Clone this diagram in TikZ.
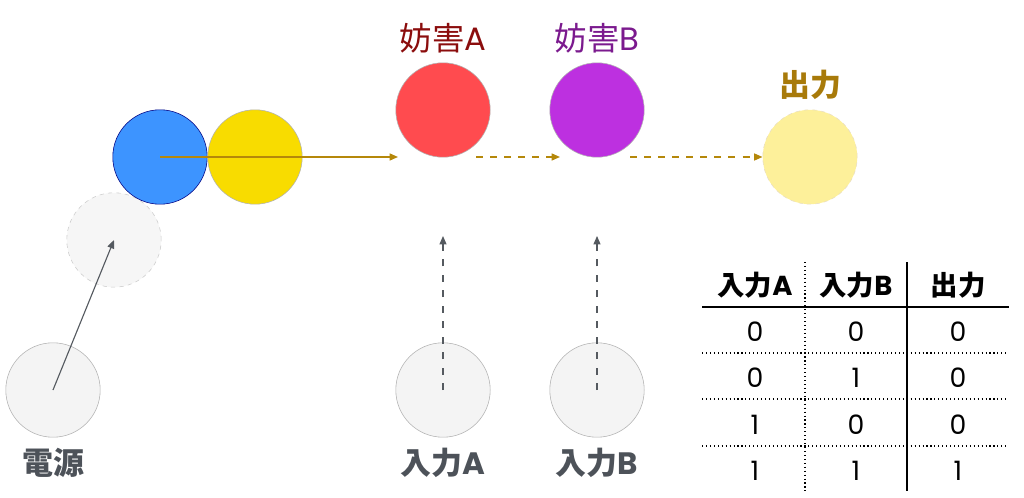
\documentclass[tikz,border=0pt]{standalone}
\usepackage{fontspec}
\setmainfont{Noto Sans CJK JP}
\newfontfamily\latn{Poppins}
\usepackage{xcolor}
\usetikzlibrary{arrows.meta,positioning}
\definecolor{ballblue}{HTML}{3D94FF}
\definecolor{ballyellow}{HTML}{F8DC00}
\definecolor{ballred}{HTML}{FF4B4F}
\definecolor{ballpurple}{HTML}{BD30E0}
\definecolor{outyellow}{HTML}{FDF09A}
\definecolor{pinfill}{HTML}{F4F4F4}
\definecolor{ghostfill}{HTML}{F6F6F6}
\definecolor{flowgold}{HTML}{B5880A}
\definecolor{pokegray}{HTML}{555A60}
\definecolor{lblgray}{HTML}{4D5259}
\definecolor{jamAred}{HTML}{8B0D0D}
\definecolor{jamBpurple}{HTML}{7B1A8E}
\definecolor{outgold}{HTML}{A87A0A}
\tikzset{
  ball/.style={circle, draw=gray!60, minimum size=2.36cm, inner sep=0pt},
  ghostball/.style={ball, dashed, draw=gray!40, fill=ghostfill},
  pinball/.style={ball, fill=pinfill},
  flowarr/.style={-{Triangle[length=6pt, width=5pt]}, line width=1.1pt, flowgold},
  flowdash/.style={flowarr, dash pattern=on 5pt off 5pt},
  pokearr/.style={-{Triangle[length=6pt, width=5pt]}, line width=0.8pt, pokegray},
  pokedash/.style={pokearr, dash pattern=on 5pt off 6pt},
  grylbl/.style={font=\fontsize{22}{22}\selectfont\bfseries, text=lblgray},
  toplbl/.style={font=\fontsize{23}{23}\selectfont},
  cell/.style={font=\fontsize{19}{19}\selectfont\latn},
  hcell/.style={font=\fontsize{19.5}{19.5}\selectfont\bfseries},
}

\begin{document}
\begin{tikzpicture}[x=0.025cm, y=-0.025cm]
\useasboundingbox (0,0) rectangle (1024,498);
% --- power and pusher ---
\node[pinball] (pwr) at (53,390) {};
\node[grylbl, below=0.14cm of pwr] (tPwr) {電源};
\node[ghostball] (ghost) at (114,240) {};
\node[ball, draw=blue!50!black, fill=ballblue] (blu) at (160,157) {};
\node[ball, fill=ballyellow] (yel) at (255,157) {};
\draw[pokearr] (pwr.center) -- (ghost.center);
% --- jammers ---
\node[ball, fill=ballred] (jamA) at (443,110) {};
\node[toplbl, text=jamAred, above=0.1cm of jamA] (tJamA) {妨害{\latn A}};
\node[ball, fill=ballpurple] (jamB) at (597,110) {};
\node[toplbl, text=jamBpurple, above=0.1cm of jamB] (tJamB) {妨害{\latn B}};
% --- output ---
\node[ball, dashed, draw=outgold!25, fill=outyellow] (out) at (810,157) {};
\node[font=\fontsize{22}{22}\selectfont\bfseries, text=outgold, above=0.12cm of out] (tOut) {出力};
% --- flow along the track ---
\coordinate (stopA) at (398,157);
\coordinate (goA) at (476,157);
\coordinate (stopB) at (560,157);
\coordinate (goB) at (630,157);
\draw[flowarr] (blu.center) -- (stopA);
\draw[flowdash] (goA) -- (stopB);
\draw[flowdash] (goB) -- (out.west);
% --- inputs ---
\node[pinball] (inA) at (443,390) {};
\node[grylbl, below=0.14cm of inA] (tInA) {入力{\latn A}};
\node[pinball] (inB) at (597,390) {};
\node[grylbl, below=0.14cm of inB] (tInB) {入力{\latn B}};
\coordinate (hitA) at (443,236);
\coordinate (hitB) at (597,236);
\draw[pokedash] (inA.center) -- (hitA);
\draw[pokedash] (inB.center) -- (hitB);
% --- truth table ---
\draw[line width=0.8pt] (702,307) -- (1009,307);
\draw[line width=0.8pt] (907,262) -- (907,491);
\draw[line width=0.8pt, dotted] (805,262) -- (805,491);
\foreach \y in {353,399,446}
  \draw[line width=0.8pt, dotted] (702,\y) -- (1009,\y);
\node[hcell] (h1) at (755,285) {入力{\latn A}};
\node[hcell] (h2) at (856,285) {入力{\latn B}};
\node[hcell] (h3) at (958,285) {出力};
\foreach \a/\b/\q [count=\r] in {0/0/0, 0/1/0, 1/0/0, 1/1/1} {
  \node[cell] (r\r a) at (755,{285+46.5*\r}) {\a};
  \node[cell] (r\r b) at (856,{285+46.5*\r}) {\b};
  \node[cell] (r\r q) at (958,{285+46.5*\r}) {\q};
}
\end{tikzpicture}
\end{document}
